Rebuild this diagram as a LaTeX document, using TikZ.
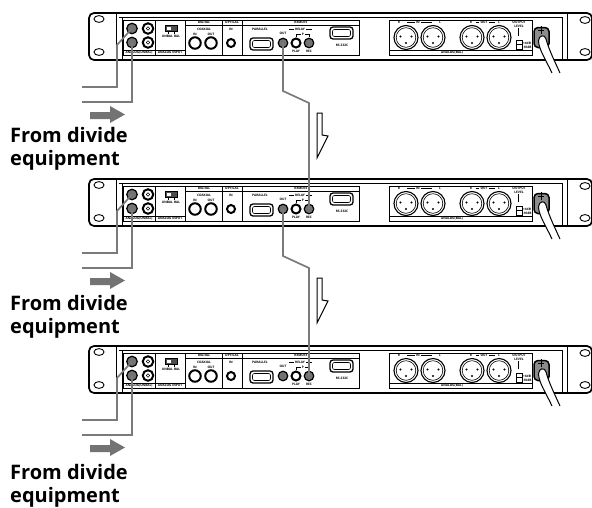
\documentclass[tikz,border=0pt]{standalone}
\usepackage{fontspec}
\setmainfont{Open Sans}
\tikzset{
  wire/.style={line width=1.7pt,draw=black!52},
  jackfill/.style={circle,draw=black,line width=1.2pt,fill=black!55,inner sep=0pt,minimum size=10.5pt},
  jackopen/.style={circle,draw=black,line width=2pt,fill=white,inner sep=0pt,minimum size=10.5pt},
  xlr/.style={circle,draw=black,line width=1.1pt,fill=white,inner sep=0pt,minimum size=24pt},
  tiny/.style={inner sep=0pt,font=\fontsize{3.2}{3.6}\selectfont\bfseries},
  caption/.style={inner sep=0pt,anchor=north west,align=left,font=\fontsize{20}{23}\selectfont\bfseries},
  rack/.pic={
    % ears and chassis
    \draw[line width=1.7pt,rounded corners=5pt] (117,13) -- (89,13) -- (89,60) -- (117,60);
    \draw[line width=1.7pt,rounded corners=5pt] (567,13) -- (592,13) -- (592,60) -- (567,60);
    \draw[line width=1.4pt] (117,13) -- (567,13);
    \draw[line width=.8pt] (119,17) -- (563,17);
    \draw[line width=2.2pt] (117,60) -- (567,60);
    \draw[line width=1pt] (116,13) -- (116,60) (122,17) -- (122,59) (567,13) -- (567,60) (562,17) -- (562,59);
    \foreach \px/\py in {99/19,99/52,585/20,585/52}
      \draw[line width=.9pt] (\px,\py) ellipse (5 and 3.4);
    % panel boxes
    \draw[line width=.9pt] (123,20) rectangle (359,55) (389,20) rectangle (532,55);
    \draw[line width=.9pt] (155,20) -- (155,55) (185,20) -- (185,55) (222,20) -- (222,55) (242,20) -- (242,55);
    \draw[line width=.6pt] (123,50) -- (185,50) (389,50) -- (532,50);
    \draw[line width=.6pt] (185,25) -- (359,25);
    % unbalanced jacks
    \node[jackfill] (-inL) at (132,28.5) {};
    \node[jackfill] (-inR) at (132,42.5) {};
    \node[jackopen] (-outL) at (148,28.5) {};
    \node[jackopen] (-outR) at (148,42.5) {};
    \draw[line width=.6pt] (148,28.5) circle (1.8) (148,42.5) circle (1.8);
    \node[tiny] at (139,52.6) {ANALOG(UNBAL)};
    \node[tiny] at (170,52.6) {ANALOG INPUT};
    % switch
    \draw[line width=1pt,fill=black!70] (165,25) rectangle (177,31);
    \draw[fill=white,draw=none] (167,27) rectangle (171,29.5);
    \draw[line width=.4pt] (168,31) -- (168,34) (174,31) -- (174,34);
    \node[tiny] at (171,36.6) {UNBAL\,\,BAL};
    % digital and optical
    \node[tiny] at (204,22.6) {DIGITAL};
    \node[tiny] at (204,29) {COAXIAL};
    \node[tiny] at (195,34) {IN};
    \node[tiny] at (211,34) {OUT};
    \node[jackopen,minimum size=11.5pt] (-coaxin) at (195,43) {};
    \node[jackopen,minimum size=11.5pt] (-coaxout) at (211,43) {};
    \node[tiny] at (232,22.6) {OPTICAL};
    \node[tiny] at (231,29.5) {IN};
    \node[jackopen,minimum size=8pt] (-optin) at (231,43) {};
    % remote
    \node[tiny] at (301,22.6) {REMOTE};
    \node[tiny] at (260,29.5) {PARALLEL};
    \draw[line width=1.3pt,rounded corners=3pt] (250,38) rectangle (273,50);
    \draw[line width=.6pt,rounded corners=2pt] (252.5,40.5) rectangle (270.5,47.5);
    \node[tiny] at (283,33) {OUT};
    \node[tiny] at (300,29) {RELAY};
    \draw[line width=.5pt] (289,29) -- (294,29) (306,29) -- (312,29);
    \node[tiny] at (303,34) {P};
    \draw[line width=.4pt] (296,37) -- (296,34.5) -- (301,34.5) (305,34.5) -- (309,34.5) -- (309,37);
    \node[jackfill,minimum size=9.5pt] (-relout) at (283,43) {};
    \node[jackopen,minimum size=9pt] (-relplay) at (296,43) {};
    \node[jackfill,minimum size=9.5pt] (-relrec) at (309,43) {};
    \node[tiny] at (296,51) {PLAY};
    \node[tiny] at (309,51) {REC};
    \draw[line width=1.3pt,rounded corners=3pt] (330,27) rectangle (353,39);
    \draw[line width=.6pt,rounded corners=2pt] (332.5,29.5) rectangle (350.5,36.5);
    \node[tiny] at (342,45) {RS-232C};
    % balanced connectors
    \foreach \px/\nm in {406/a,433/b,472/c,499/d}{
      \node[xlr] (-xlr\nm) at (\px,37.5) {};
      \draw[line width=.6pt] (\px,37.5) circle (9.8);
      \fill (\px-5.5,36.5) circle (1.1) (\px+5.5,36.5) circle (1.1) (\px,43) circle (1.1);
    }
    \node[tiny] at (399,22.6) {R};
    \node[tiny] at (418,22.6) {IN};
    \node[tiny] at (440,22.6) {L};
    \node[tiny] at (471,22.6) {R};
    \node[tiny] at (484,22.6) {OUT};
    \node[tiny] at (499,22.6) {L};
    \draw[line width=.5pt] (407,22.6) -- (415,22.6) (421,22.6) -- (432,22.6) (476,22.6) -- (479,22.6) (489,22.6) -- (495,22.6);
    \node[tiny] at (452,52.6) {ANALOG(BAL)};
    % output level
    \node[tiny,align=center] at (519,24.5) {OUTPUT\\LEVEL};
    \draw[line width=.6pt] (518,28) -- (518,36);
    \draw[line width=.8pt] (516,40) rectangle (522,49) (516,44.5) -- (522,44.5);
    \node[tiny] at (527,43) {+4dB};
    \node[tiny] at (527,47) {-10dB};
    % power inlet and cord
    \draw[line width=1.5pt,rounded corners=4pt,fill=black!45] (534,27.5) rectangle (549,47.5);
    \draw[line width=.6pt] (541,26) -- (541,34) (538,30) -- (544,30);
    \path[fill=white] (552,73) .. controls (546,60) and (539,50) .. (538.5,41) .. controls (538.5,35) and (545,34) .. (546,39)
       .. controls (549,50) and (555,62) .. (560,73) -- cycle;
    \draw[line width=1pt] (552,73) .. controls (546,60) and (539,50) .. (538.5,41) .. controls (538.5,35) and (545,34) .. (546,39)
       .. controls (549,50) and (555,62) .. (560,73);
  }
}
\begin{document}
\begin{tikzpicture}[x=1pt,y=-1pt]
\useasboundingbox (0,0) rectangle (592,507);
\foreach \nm/\dy/\ty in {top/0/0,mid/166/168,bot/333/337}{
  \pic (\nm) at (0,\dy) {rack};
  % cables from the divide equipment
  \coordinate (\nm kneeA) at (117,45+\dy);
  \coordinate (\nm cornerA) at (117,87+\dy);
  \coordinate (\nm endA) at (82,87+\dy);
  \coordinate (\nm cornerB) at (132,102+\dy);
  \coordinate (\nm endB) at (82,102+\dy);
  \draw[wire] (\nm-inL.center) -- (\nm kneeA) -- (\nm cornerA) -- (\nm endA);
  \draw[wire] (\nm-inR.center) -- (\nm cornerB) -- (\nm endB);
  \fill[black!55] (90,112+\dy) -- (110,112+\dy) -- (110,106+\dy) -- (125,114.5+\dy) -- (110,123+\dy) -- (110,119+\dy) -- (90,119+\dy) -- cycle;
  \node[caption] (\nm label) at (10,126.8+\ty) {From divide\\equipment};
}
% remote link between the units
\foreach \up/\dn/\dy in {top/mid/0,mid/bot/165}{
  \coordinate (\up kneeC) at (283,91+\dy);
  \coordinate (\up kneeD) at (309,103+\dy);
  \draw[wire] (\up-relout.center) -- (\up kneeC) -- (\up kneeD) -- (\dn-relrec.center);
  \draw[line width=1pt,line join=miter] (317,113+\dy) -- (322,113+\dy) -- (322,135+\dy) -- (328,136+\dy) -- (317,158+\dy) -- cycle;
}
\end{tikzpicture}
\end{document}
